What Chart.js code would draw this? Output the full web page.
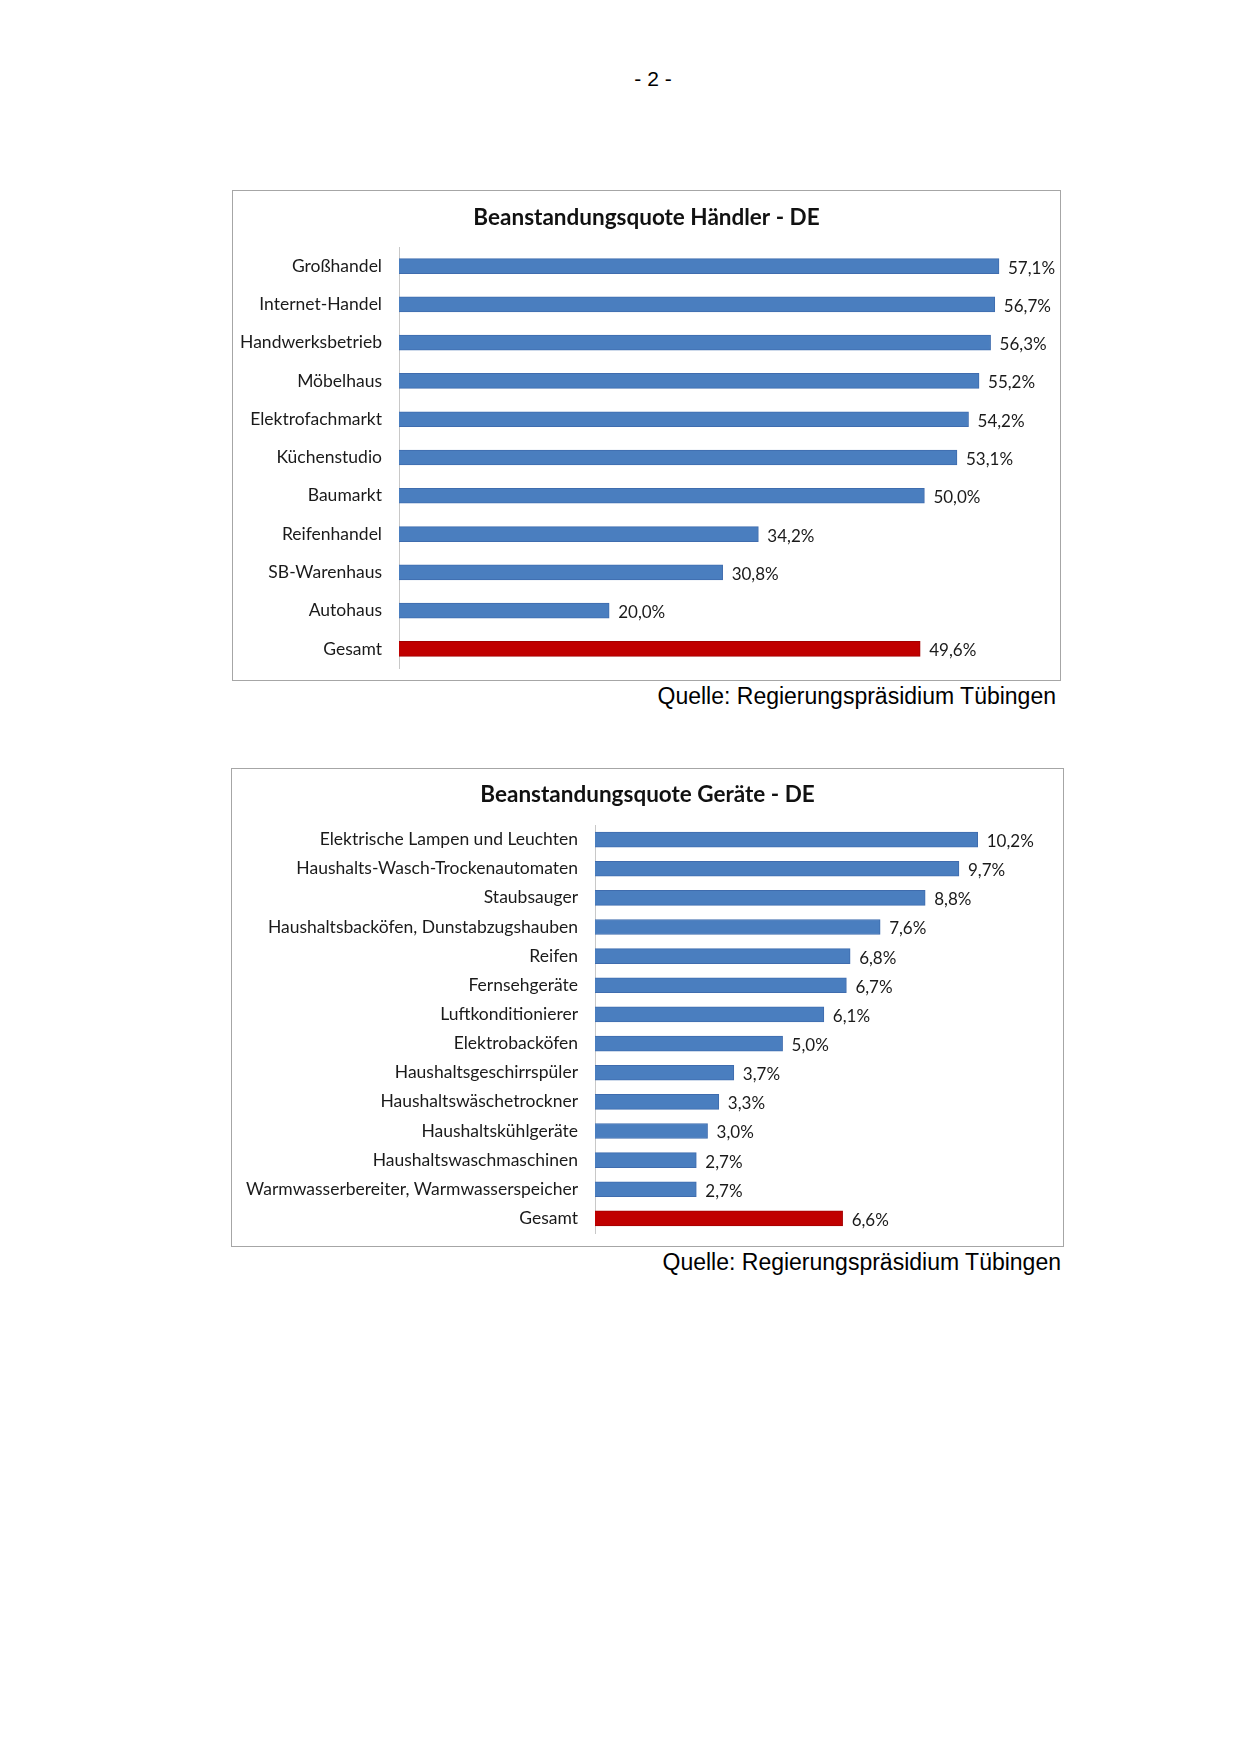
<!DOCTYPE html>
<html>
<head>
<meta charset="utf-8">
<script src="https://cdn.jsdelivr.net/npm/chart.js"></script>
<style>
  html, body { margin: 0; padding: 0; background: #fff; }
  body { width: 1241px; height: 1755px; position: relative; overflow: hidden; }
  .pagenum { position: absolute; left: 603px; width: 100px; top: 67px; text-align: center;
             font-family: "Liberation Sans", Arial, sans-serif; font-size: 21px; color: #000; }
  .box { position: absolute; border: 1px solid #a6a6a6; box-sizing: content-box; background: #fff; }
  .box canvas { position: absolute; left: -1px; top: -1px; }
  .src { position: absolute; font-family: "Liberation Sans", Arial, sans-serif; font-size: 23px;
         color: #000; text-align: right; white-space: nowrap; }
</style>
</head>
<body>
<div class="pagenum">- 2 -</div>

<div class="box" style="left:232px; top:190px; width:827px; height:489px;">
  <canvas id="c1" width="829" height="491"></canvas>
</div>
<div class="src" style="left:561px; width:495px; top:683px;">Quelle: Regierungspräsidium Tübingen</div>

<div class="box" style="left:231px; top:768px; width:831px; height:477px;">
  <canvas id="c2" width="833" height="479"></canvas>
</div>
<div class="src" style="left:566px; width:495px; top:1249px;">Quelle: Regierungspräsidium Tübingen</div>

<script>
// ---- Data: Chart 1 (Händler) ----
const haendlerTitle = "Beanstandungsquote Händler - DE";
const haendlerLabels = ["Großhandel", "Internet-Handel", "Handwerksbetrieb", "Möbelhaus",
  "Elektrofachmarkt", "Küchenstudio", "Baumarkt", "Reifenhandel", "SB-Warenhaus", "Autohaus", "Gesamt"];
const haendlerValues = [57.1, 56.7, 56.3, 55.2, 54.2, 53.1, 50.0, 34.2, 30.8, 20.0, 49.6];

// ---- Data: Chart 2 (Geräte) ----
const geraeteTitle = "Beanstandungsquote Geräte - DE";
const geraeteLabels = ["Elektrische Lampen und Leuchten", "Haushalts-Wasch-Trockenautomaten", "Staubsauger",
  "Haushaltsbacköfen, Dunstabzugshauben", "Reifen", "Fernsehgeräte", "Luftkonditionierer", "Elektrobacköfen",
  "Haushaltsgeschirrspüler", "Haushaltswäschetrockner", "Haushaltskühlgeräte", "Haushaltswaschmaschinen",
  "Warmwasserbereiter, Warmwasserspeicher", "Gesamt"];
const geraeteValues = [10.2, 9.7, 8.8, 7.6, 6.8, 6.7, 6.1, 5.0, 3.7, 3.3, 3.0, 2.7, 2.7, 6.6];

const BLUE = "#4A7EBF";
const BLUE_EDGE = "#3F6CAE";
const RED = "#C00000";
const RED_EDGE = "#A30000";

Chart.defaults.font.family = "Lato, 'Open Sans', sans-serif";
Chart.defaults.color = "#1a1a1a";
Chart.defaults.animation = false;

const valueLabels = {
  id: "valueLabels",
  afterDatasetsDraw(chart) {
    const ctx = chart.ctx;
    const meta = chart.getDatasetMeta(0);
    const data = chart.data.datasets[0].data;
    ctx.save();
    ctx.font = "17px Lato, 'Open Sans', sans-serif";
    ctx.fillStyle = "#1a1a1a";
    ctx.textAlign = "left";
    ctx.textBaseline = "middle";
    meta.data.forEach((bar, i) => {
      ctx.fillText(data[i].toFixed(1).replace(".", ",") + "%", bar.x + 9, bar.y + 2);
    });
    ctx.restore();
  }
};

function makeChart(id, title, labels, values, cfg) {
  const isTotal = labels.map(l => l === "Gesamt");
  return new Chart(document.getElementById(id), {
    type: "bar",
    data: {
      labels: labels,
      datasets: [{
        data: values,
        backgroundColor: isTotal.map(t => t ? RED : BLUE),
        borderColor: isTotal.map(t => t ? RED_EDGE : BLUE_EDGE),
        borderWidth: 1,
        borderSkipped: "start",
        barThickness: 15,
        categoryPercentage: 1,
        barPercentage: 1
      }]
    },
    plugins: [valueLabels],
    options: {
      indexAxis: "y",
      responsive: false,
      maintainAspectRatio: false,
      layout: { padding: { top: 0, left: 0, right: 0, bottom: cfg.padBottom } },
      plugins: {
        legend: { display: false },
        tooltip: { enabled: false },
        title: {
          display: true,
          text: title,
          color: "#111",
          font: { size: 22.5, weight: "bold" },
          padding: { top: cfg.titleTop, bottom: cfg.titleBottom }
        }
      },
      scales: {
        x: { display: false, min: 0, max: cfg.xMax },
        y: {
          grid: { display: false, drawTicks: false },
          border: { display: true, color: "#c8c8c8", width: 1 },
          ticks: { padding: 17, color: "#1a1a1a", font: { size: 17.5 } },
          afterFit(scale) {
            scale.width = cfg.yWidth;
            scale.paddingTop = 0;
            scale.paddingBottom = 0;
          }
        }
      }
    }
  });
}

makeChart("c1", haendlerTitle, haendlerLabels, haendlerValues,
  { padBottom: 13, titleTop: 14.5, titleBottom: 15.5, xMax: 63, yWidth: 167 });
makeChart("c2", geraeteTitle, geraeteLabels, geraeteValues,
  { padBottom: 14, titleTop: 13.5, titleBottom: 16.5, xMax: 12.5, yWidth: 364 });
</script>
</body>
</html>
